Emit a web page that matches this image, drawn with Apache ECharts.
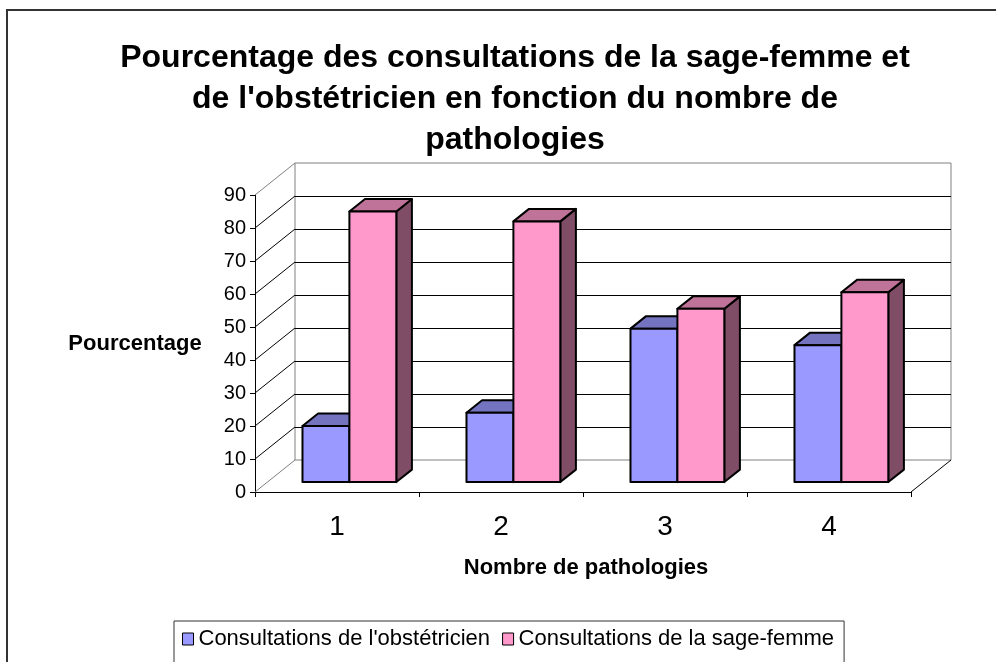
<!DOCTYPE html>
<html lang="fr">
<head>
<meta charset="UTF-8">
<title>Pourcentage des consultations</title>
<script src="https://cdn.jsdelivr.net/npm/echarts@6/dist/echarts.min.js"></script>
<style>
    html, body { margin: 0; padding: 0; background: #fff; }
    #chart { width: 996px; height: 662px; }
</style>
</head>
<body>
<div id="chart"></div>
<script type="text/javascript">
    // données
    var categories = ['1', '2', '3', '4'];
    var obstetricien = [17, 21, 46.5, 41.5];
    var sageFemme = [82, 79, 52.5, 57.5];
    var yTicks = [0, 10, 20, 30, 40, 50, 60, 70, 80, 90];

    var FONT = "'Liberation Sans', Arial, sans-serif";
    // décalage de profondeur (effet 3D façon Excel)
    var DX = 40, DY = -32;

    var chart = echarts.init(document.getElementById('chart'));

    // barre 3D : face avant, dessus, côté
    function barRenderer(side, colors) {
        return function (params, api) {
            var i = api.value(0), v = api.value(1);
            var base = api.coord([i, 0]);
            var top = api.coord([i, v]);
            var band = api.size([1, 0])[0];
            var bw = band * 0.286;
            var ox = DX * 0.31, oy = DY * 0.31;
            var dx = DX * 0.39, dy = DY * 0.39;
            var x0 = base[0] + ox + (side === 0 ? -bw : 0);
            var x1 = x0 + bw;
            var yb = base[1] + oy, yt = top[1] + oy;
            var st = { stroke: '#000', lineWidth: 2, lineJoin: 'round' };
            return {
                type: 'group',
                children: [
                    { type: 'polygon', shape: { points: [[x1, yt], [x1 + dx, yt + dy], [x1 + dx, yb + dy], [x1, yb]] },
                      style: Object.assign({ fill: colors.side }, st) },
                    { type: 'polygon', shape: { points: [[x0, yt], [x1, yt], [x1 + dx, yt + dy], [x0 + dx, yt + dy]] },
                      style: Object.assign({ fill: colors.top }, st) },
                    { type: 'rect', shape: { x: x0, y: yt, width: bw, height: yb - yt },
                      style: Object.assign({ fill: colors.front }, st) }
                ]
            };
        };
    }

    // murs : diagonales du mur gauche et arête droite du sol
    function wallRenderer(params, api) {
        var v = api.value(1);
        var p = api.coord([0, v]);
        var half = api.size([1, 0])[0] / 2;
        var xl = p[0] - half;
        var edge = (v === yTicks[0] || v === yTicks[yTicks.length - 1]);
        var children = [{
            type: 'line',
            shape: { x1: xl, y1: p[1], x2: xl + DX, y2: p[1] + DY },
            style: { stroke: edge ? '#808080' : '#000', lineWidth: 1 }
        }];
        if (v === yTicks[0]) {
            var pr = api.coord([categories.length - 1, v]);
            children.push({
                type: 'line',
                shape: { x1: pr[0] + half, y1: pr[1], x2: pr[0] + half + DX, y2: pr[1] + DY },
                style: { stroke: '#000', lineWidth: 1 }
            });
        }
        return { type: 'group', children: children };
    }

    var option = {
        animation: false,
        backgroundColor: '#fff',
        textStyle: { fontFamily: FONT },
        graphic: [
            { type: 'rect', shape: { x: 7, y: 10, width: 1000, height: 700 },
              style: { fill: 'none', stroke: '#333', lineWidth: 2 }, z: 100 },
            { type: 'text', x: 515, y: 38, z: 100,
              style: { text: "Pourcentage des consultations de la sage-femme et\nde l'obstétricien en fonction du nombre de\npathologies",
                       font: 'bold 32px ' + FONT, fill: '#000', textAlign: 'center', textVerticalAlign: 'top', lineHeight: 41 } },
            { type: 'text', x: 135, y: 344, z: 100,
              style: { text: 'Pourcentage', font: 'bold 22px ' + FONT, fill: '#000', textAlign: 'center', textVerticalAlign: 'middle' } },
            { type: 'text', x: 586, y: 568, z: 100,
              style: { text: 'Nombre de pathologies', font: 'bold 22px ' + FONT, fill: '#000', textAlign: 'center', textVerticalAlign: 'middle' } }
        ],
        legend: {
            data: ["Consultations de l'obstétricien", 'Consultations de la sage-femme'],
            left: 174,
            top: 621,
            padding: [7, 10, 20, 8],
            itemGap: 12,
            itemWidth: 11,
            itemHeight: 12,
            icon: 'rect',
            backgroundColor: '#fff',
            borderColor: '#333',
            borderWidth: 1,
            borderRadius: 0,
            itemStyle: { borderColor: '#000', borderWidth: 1 },
            textStyle: { fontSize: 22, color: '#000', fontFamily: FONT }
        },
        grid: [
            { left: 255, right: 85, top: 195, bottom: 170 },
            { left: 295, right: 45, top: 163, bottom: 202, show: true, borderColor: '#808080', borderWidth: 1 }
        ],
        xAxis: [
            {
                type: 'category',
                gridIndex: 0,
                data: categories,
                axisLine: { lineStyle: { color: '#000', width: 1 } },
                axisTick: { show: true, length: 5, lineStyle: { color: '#000' } },
                axisLabel: { fontSize: 28, color: '#000', margin: 21, fontFamily: FONT }
            },
            { type: 'category', gridIndex: 1, data: categories, show: false }
        ],
        yAxis: [
            {
                type: 'value',
                gridIndex: 0,
                min: 0,
                max: 90,
                interval: 10,
                axisLine: { show: true, lineStyle: { color: '#000', width: 1 } },
                axisTick: { show: true, length: 5, lineStyle: { color: '#000' } },
                axisLabel: { fontSize: 20, color: '#000', margin: 9, fontFamily: FONT },
                splitLine: { show: false }
            },
            {
                type: 'value',
                gridIndex: 1,
                min: 0,
                max: 90,
                interval: 10,
                axisLine: { show: false },
                axisTick: { show: false },
                axisLabel: { show: false },
                splitLine: { show: true, showMinLine: false, showMaxLine: false, lineStyle: { color: '#000', width: 1 } }
            }
        ],
        series: [
            {
                type: 'custom',
                name: 'murs',
                xAxisIndex: 0,
                yAxisIndex: 0,
                z: 1,
                silent: true,
                renderItem: wallRenderer,
                data: yTicks.map(function (v) { return [0, v]; })
            },
            {
                type: 'custom',
                name: "Consultations de l'obstétricien",
                xAxisIndex: 0,
                yAxisIndex: 0,
                z: 3,
                itemStyle: { color: '#9999FF' },
                renderItem: barRenderer(0, { front: '#9999FF', top: '#7373BF', side: '#4D4D80' }),
                data: obstetricien.map(function (v, i) { return [i, v]; })
            },
            {
                type: 'custom',
                name: 'Consultations de la sage-femme',
                xAxisIndex: 0,
                yAxisIndex: 0,
                z: 4,
                itemStyle: { color: '#FF99CC' },
                renderItem: barRenderer(1, { front: '#FF99CC', top: '#C07399', side: '#804D66' }),
                data: sageFemme.map(function (v, i) { return [i, v]; })
            }
        ]
    };

    chart.setOption(option);
</script>
</body>
</html>
